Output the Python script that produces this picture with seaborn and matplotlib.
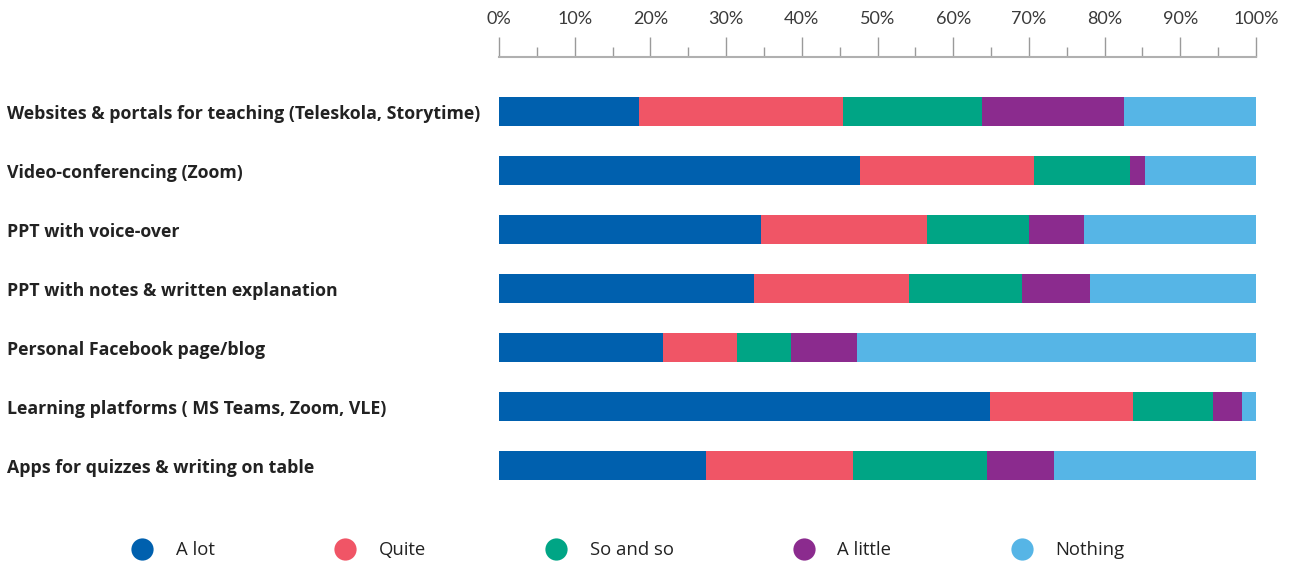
import numpy as np
import pandas as pd
import matplotlib
matplotlib.use("Agg")
import matplotlib.pyplot as plt
from matplotlib.lines import Line2D
from matplotlib.ticker import MultipleLocator, FuncFormatter
import seaborn as sns

# Survey: how much each tool was used (share of respondents, %)
tools = [
    "Websites & portals for teaching (Teleskola, Storytime)",
    "Video-conferencing (Zoom)",
    "PPT with voice-over",
    "PPT with notes & written explanation",
    "Personal Facebook page/blog",
    "Learning platforms ( MS Teams, Zoom, VLE)",
    "Apps for quizzes & writing on table",
]
levels = ["A lot", "Quite", "So and so", "A little", "Nothing"]
a_lot     = [18.5, 47.7, 34.6, 33.7, 21.7, 64.9, 27.3]
quite     = [26.9, 23.0, 21.9, 20.5,  9.8, 18.8, 19.4]
so_and_so = [18.4, 12.7, 13.5, 14.9,  7.1, 10.6, 17.7]
a_little  = [18.8,  1.9,  7.3,  9.0,  8.7,  3.8,  8.9]
nothing   = [17.4, 14.7, 22.7, 21.9, 52.7,  1.9, 26.7]
colors = ["#0060AE", "#F05566", "#00A585", "#8B2B8E", "#56B5E6"]

df = pd.DataFrame(
    {"tool": tools, "A lot": a_lot, "Quite": quite, "So and so": so_and_so,
     "A little": a_little, "Nothing": nothing}
)
cum = df[levels].cumsum(axis=1)

sns.set_theme(style="white")
plt.rcParams["font.family"] = ["Lato", "DejaVu Sans"]

fig = plt.figure(figsize=(12.9, 5.63), dpi=100)
ax = fig.add_axes([499 / 1290, 1 - 495 / 563, 757 / 1290, (495 - 57) / 563])

# Stacked bars: draw cumulative totals from the outermost segment inwards
for lvl, col in reversed(list(zip(levels, colors))):
    sns.barplot(data=cum.assign(tool=df["tool"]), x=lvl, y="tool", order=tools,
                color=col, width=0.49, saturation=1, ax=ax, linewidth=0)

ax.set_xlim(0, 100)
ax.set_ylim(6.5, -0.924)
ax.set_xlabel("")
ax.set_ylabel("")

# Percentage scale on top
ax.xaxis.tick_top()
ax.xaxis.set_major_locator(MultipleLocator(10))
ax.xaxis.set_minor_locator(MultipleLocator(5))
ax.xaxis.set_major_formatter(FuncFormatter(lambda v, p: f"{v:.0f}%"))
ax.tick_params(axis="x", which="major", direction="out", length=14.4, width=1,
               color="#9a9a9a", labelsize=13, labelcolor="#3a3a3a", pad=7)
ax.tick_params(axis="x", which="minor", direction="out", length=7.2, width=1,
               color="#9a9a9a")

for s in ["right", "bottom", "left"]:
    ax.spines[s].set_visible(False)
ax.spines["top"].set_color("#b0b0b0")
ax.spines["top"].set_linewidth(1.5)

# Left-aligned category labels
ax.tick_params(axis="y", length=0, pad=354, labelcolor="#222222")
for lab in ax.get_yticklabels():
    lab.set_horizontalalignment("left")
    lab.set_fontweight("bold")
    lab.set_fontfamily(["Open Sans", "DejaVu Sans"])
    lab.set_fontsize(12.75)

handles = [Line2D([0], [0], marker="o", linestyle="", markersize=16,
                  markerfacecolor=c, markeredgewidth=0) for c in colors]
fig.legend(handles, levels, loc="center left", bbox_to_anchor=(107 / 1290, 1 - 550 / 563),
           ncol=5, frameon=False, handletextpad=0.82, columnspacing=6.05,
           labelcolor="#222222",
           prop={"family": ["Open Sans", "DejaVu Sans"], "size": 13.3})

fig.savefig("out.png", dpi=100)
